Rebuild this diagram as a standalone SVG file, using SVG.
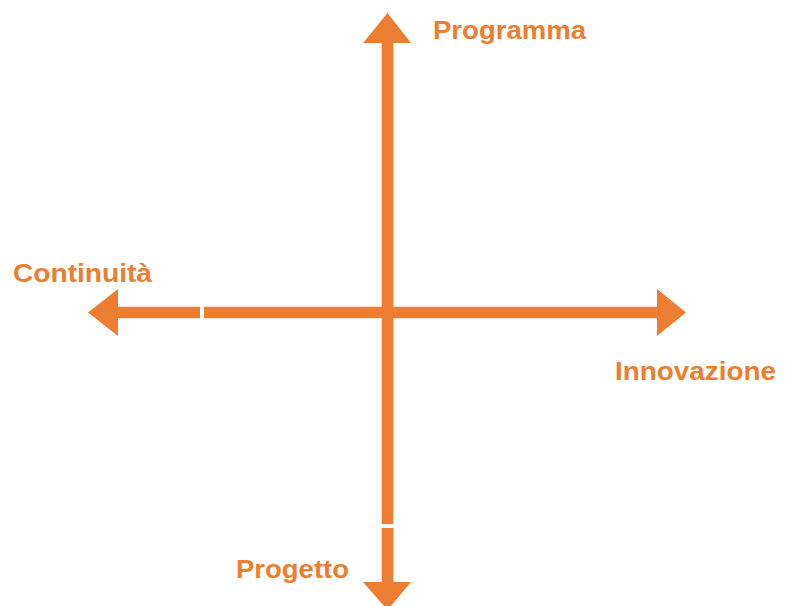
<svg xmlns="http://www.w3.org/2000/svg" width="786" height="606" viewBox="0 0 786 606">
<style>
.lbl{font-family:"Liberation Sans",Arial,sans-serif;font-weight:bold;font-size:25px;fill:#ED7D31}
.ax{fill:#ED7D31}
</style>
<rect width="786" height="606" fill="#fff"/>
<g id="connectors">
<polygon class="ax" points="88,312.5 118,289 118,306.7 200,306.7 200,318.3 118,318.3 118,336"/>
<polygon class="ax" points="204,306.7 657,306.7 657,289 686,312.5 657,336 657,318.3 204,318.3"/>
<polygon class="ax" points="387.5,13 411,43 393.3,43 393.3,524 381.7,524 381.7,43 363,43"/>
<polygon class="ax" points="381.7,528 393.3,528 393.3,582 411,582 387.5,610 363,582 381.7,582"/>
</g>
<g id="programma"><text class="lbl" x="433" y="39" textLength="153" lengthAdjust="spacingAndGlyphs">Programma</text></g>
<g id="continuita"><text class="lbl" x="13" y="282" textLength="139" lengthAdjust="spacingAndGlyphs">Continuità</text></g>
<g id="innovazione"><text class="lbl" x="615" y="380" textLength="161" lengthAdjust="spacingAndGlyphs">Innovazione</text></g>
<g id="progetto"><text class="lbl" x="236" y="578" textLength="113" lengthAdjust="spacingAndGlyphs">Progetto</text></g>
</svg>
